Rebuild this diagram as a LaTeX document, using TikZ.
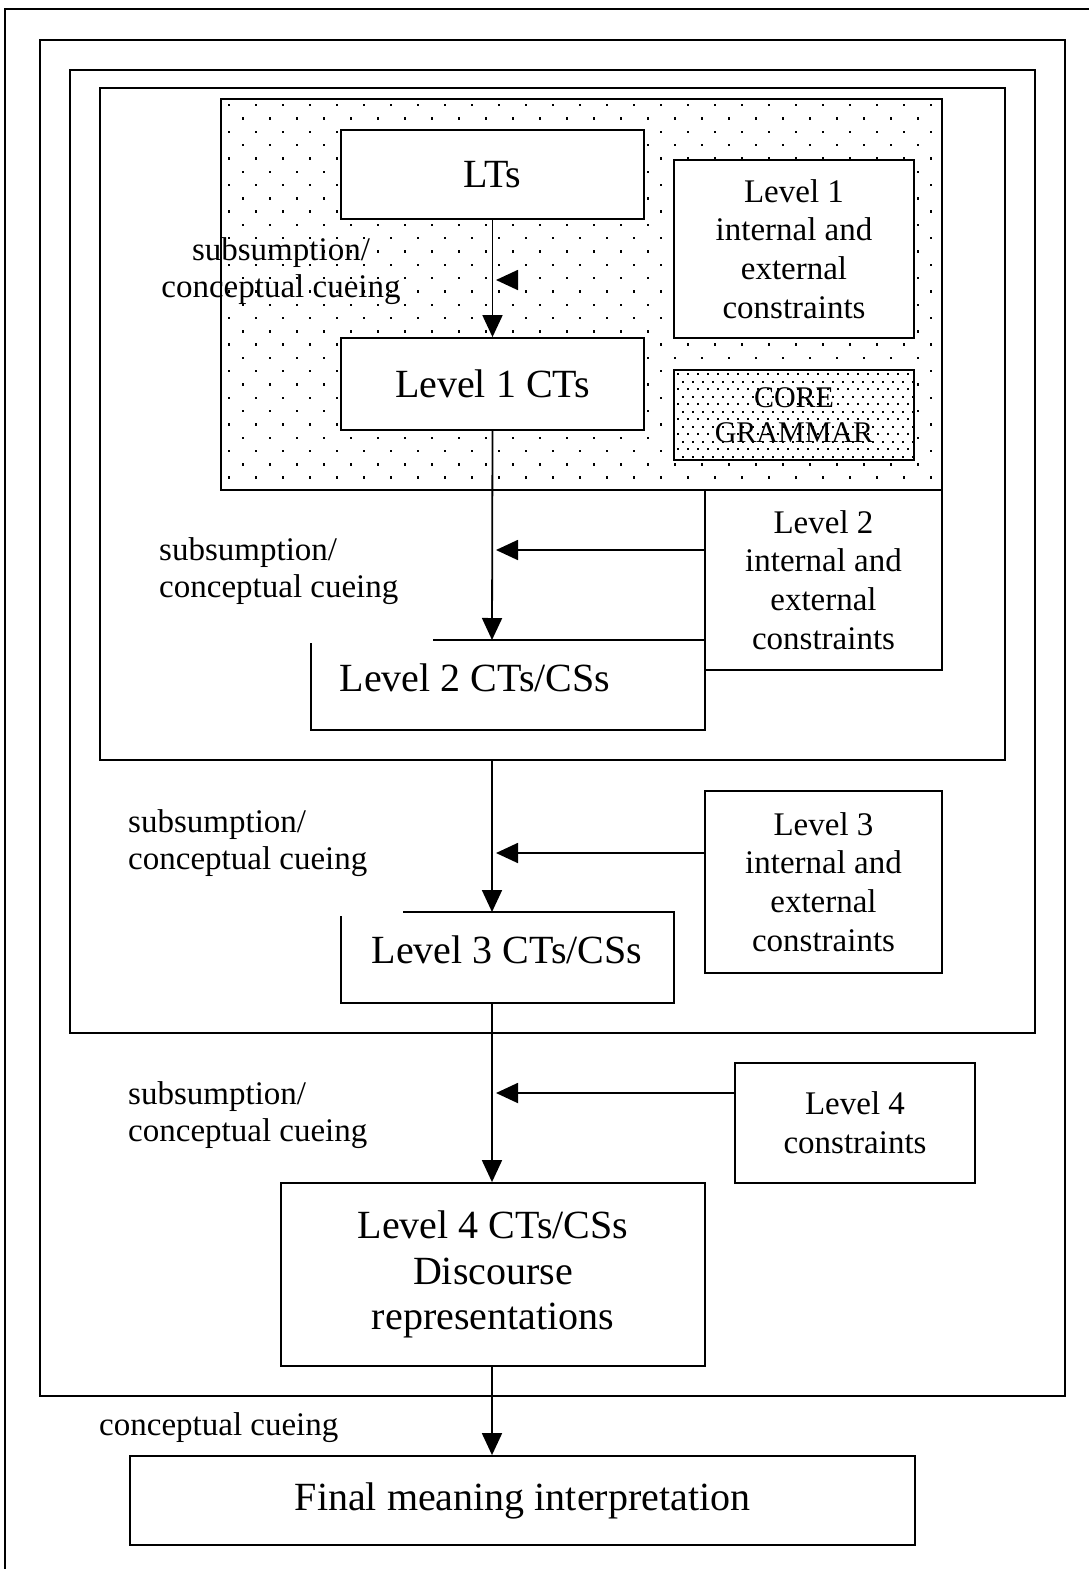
\documentclass[tikz,border=0pt]{standalone}
\usepackage{fontspec}
\setmainfont{Liberation Serif}
\usetikzlibrary{arrows.meta,backgrounds}

\tikzset{
  box/.style={draw, line width=1.8pt, fill=white, inner sep=4pt},
  bigtext/.style={font=\fontsize{40}{46}\selectfont, align=center},
  constext/.style={font=\fontsize{33}{38.7}\selectfont, align=center},
  cuelabel/.style={font=\fontsize{33}{37.5}\selectfont, align=left, anchor=west},
  cue/.style={line width=1.8pt, -{Triangle[length=22pt,width=20pt]}},
}

\begin{document}
\begin{tikzpicture}[x=1pt,y=-1pt,line width=1.8pt]
\useasboundingbox (0,0) rectangle (1088,1569);

% nested frames
\draw (1100,9) -- (5,9) -- (5,1580);
\draw (40,40) rectangle (1065,1396);
\draw (70,70) rectangle (1035,1033);
\draw (100,88) rectangle (1005,760);

% level 1 region, dotted
\draw (221,99) rectangle (942,490);
\begin{scope}
\clip (221,99) rectangle (942,490);
\foreach \r [evaluate=\r as \off using {mod(\r,2)*13.5}] in {0,...,29}
  \foreach \c in {0,...,27}
    \fill ({228+\c*27+\off},{104+\r*13.3}) rectangle ++(2.4,2.4);
\end{scope}

\node[box, bigtext, minimum width=303pt, minimum height=89pt] (lts) at (492.5,174.5) {LTs};
\node[box, bigtext, minimum width=303pt, minimum height=92pt] (l1) at (492.5,384) {Level 1 CTs};
\node[box, constext, minimum width=240pt, minimum height=178pt] (c1) at (794,249)
  {Level 1\\internal and\\external\\constraints};

% core grammar, densely dotted
\fill[white] (674,370) rectangle (914,460);
\begin{scope}
\clip (674,370) rectangle (914,460);
\foreach \r [evaluate=\r as \off using {mod(\r,2)*5}] in {0,...,11}
  \foreach \c in {0,...,24}
    \fill ({677+\c*10+\off},{373+\r*7.5}) rectangle ++(2,2);
\end{scope}
\node[draw, font=\fontsize{30}{35}\selectfont, align=center, minimum width=240pt, minimum height=90pt] (core) at (794,415) {CORE\\GRAMMAR};

\node[font=\fontsize{33}{37}\selectfont, align=center] (lab1) at (281,271) {subsumption/\\conceptual cueing};

\coordinate (j1) at (496,280);
\begin{scope}[on background layer]
\draw[white, line width=1.8pt, -{Triangle[black,length=22pt,width=20pt]}] (c1.west |- j1) -- (j1);
\end{scope}
\draw[cue] (lts) -- (l1);

% level 2
\node[box, constext, minimum width=237pt, minimum height=180pt] (c2) at (823.5,580)
  {Level 2\\internal and\\external\\constraints};
\draw (433,640) -- (705,640) -- (705,730) -- (311,730) -- (311,643);
\node[bigtext] (l2) at (475,678) {Level 2 CTs/CSs};
\node[cuelabel] (lab2) at (155,571) {subsumption/\\conceptual cueing};
\coordinate (l2top) at (492,640);
\coordinate (j2) at (496,550);
\draw[cue] (l1.south) -- (l2top);
\draw[cue] (c2.west |- j2) -- (j2);

% level 3
\node[box, constext, minimum width=237pt, minimum height=182pt] (c3) at (823.5,882)
  {Level 3\\internal and\\external\\constraints};
\draw (403,912) -- (674,912) -- (674,1003) -- (341,1003) -- (341,916);
\node[bigtext] (l3) at (507,950) {Level 3 CTs/CSs};
\node[cuelabel] (lab3) at (124,843) {subsumption/\\conceptual cueing};
\coordinate (b3) at (492,760);
\coordinate (l3top) at (492,912);
\coordinate (l3bot) at (492,1003);
\coordinate (j3) at (496,853);
\draw[cue] (b3) -- (l3top);
\draw[cue] (c3.west |- j3) -- (j3);

% level 4
\node[box, constext, minimum width=240pt, minimum height=120pt] (c4) at (855,1123)
  {Level 4\\constraints};
\node[box, bigtext, minimum width=424pt, minimum height=183pt, font=\fontsize{40}{45.5}\selectfont] (l4) at (493,1274.5)
  {Level 4 CTs/CSs\\Discourse\\representations};
\node[cuelabel] (lab4) at (124,1115) {subsumption/\\conceptual cueing};
\coordinate (j4) at (496,1093);
\draw[cue] (l3bot) -- (l3bot |- l4.north);
\draw[cue] (c4.west |- j4) -- (j4);

% final
\node[box, bigtext, minimum width=785pt, minimum height=89pt] (fin) at (522.5,1500.5) {Final meaning interpretation};
\node[cuelabel] (lab5) at (95,1428) {conceptual cueing};
\draw[cue] (l4.south -| l3bot) -- (l3bot |- fin.north);

\end{tikzpicture}
\end{document}
